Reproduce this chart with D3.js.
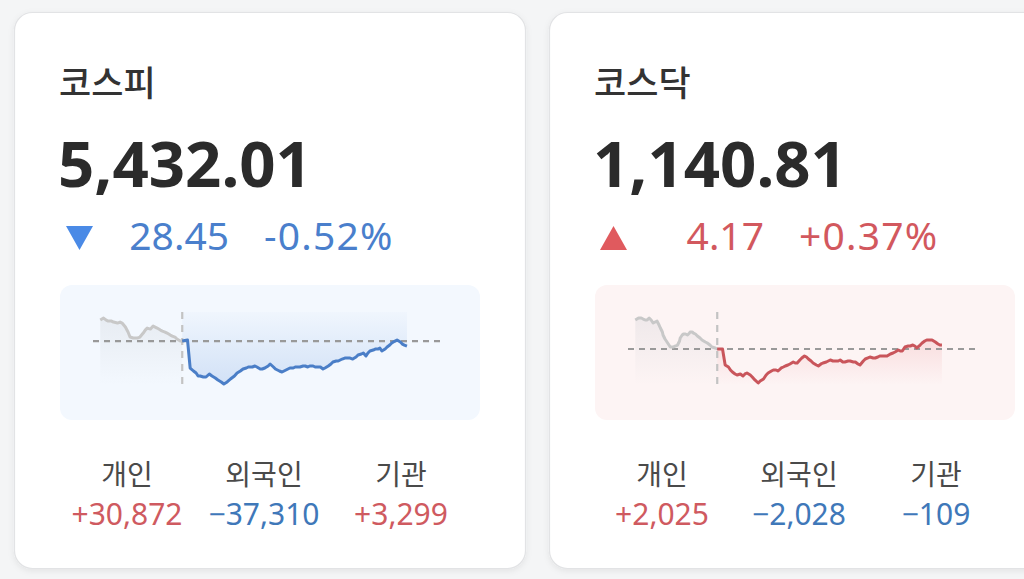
<!DOCTYPE html>
<html><head><meta charset="utf-8">
<script src="https://cdn.jsdelivr.net/npm/d3@7"></script>
<style>
html,body{margin:0;padding:0;background:#f4f5f6;}
svg{display:block;font-family:"Noto Sans","Noto Sans CJK KR",sans-serif;}
</style></head>
<body><svg id="c" width="1024" height="579"></svg>
<script>
// ---- data ----
const indexNames = ["코스피", "코스닥"];
const indexValues = [5432.01, 1140.81];
const changes = [-28.45, 4.17];
const changePct = [-0.52, 0.37];
const investorLabels = ["개인", "외국인", "기관"];
const kospiInvestors = [30872, -37310, 3299];
const kosdaqInvestors = [2025, -2028, -109];

// minutes relative to today's open (negative = previous session)
const kospiPrevTimes = [-124,-119,-115,-112,-107,-104,-98,-94,-91,-86,-82,-79,-74,-68,-64,-59,-56,-53,-48,-44,-41,-38,-33,-30,-26,-23,-18,-15,-11,-8,-3,0];
const kospiPrevValues = [5579.9,5591.3,5579.9,5574.3,5574.3,5568.6,5562.9,5568.6,5562.9,5540.1,5511.7,5483.2,5477.5,5477.5,5483.2,5506.0,5523.0,5534.4,5528.7,5545.8,5540.1,5534.4,5523.0,5517.4,5511.7,5506.0,5494.6,5488.9,5483.2,5471.9,5460.5,5460.5];
const kospiTimes = [0,8,12,17,21,24,27,32,36,41,45,50,54,59,63,68,73,79,83,88,92,97,100,106,110,113,118,121,125,130,133,138,141,147,151,157,163,168,171,175,178,183,186,190,193,198,201,206,209,213,216,221,225,228,233,236,242,246,251,254,258,263,266,271,274,278,281,284,289,292,296,299,302,307,310,314,317,322,325,330,333,336,340];
const kospiValues = [5460.5,5466.2,5306.8,5289.8,5278.4,5261.3,5261.3,5255.6,5255.6,5272.7,5261.3,5249.9,5238.6,5227.2,5215.8,5227.2,5244.2,5261.3,5278.4,5289.8,5301.1,5306.8,5312.5,5312.5,5318.2,5312.5,5301.1,5301.1,5306.8,5318.2,5329.6,5312.5,5301.1,5289.8,5284.1,5295.5,5306.8,5306.8,5312.5,5312.5,5312.5,5318.2,5318.2,5312.5,5318.2,5318.2,5312.5,5312.5,5312.5,5301.1,5306.8,5318.2,5329.6,5341.0,5346.7,5346.7,5358.0,5363.7,5363.7,5363.7,5358.0,5369.4,5380.8,5386.5,5392.2,5375.1,5392.2,5403.6,5409.2,5414.9,5414.9,5420.6,5403.6,5414.9,5426.3,5437.7,5449.1,5460.5,5466.2,5454.8,5443.4,5437.7,5432.0];

const kosdaqPrevTimes = [-124,-119,-115,-112,-109,-106,-103,-100,-97,-94,-91,-88,-86,-83,-82,-79,-76,-73,-71,-68,-67,-63,-60,-57,-56,-53,-51,-48,-45,-42,-41,-38,-36,-33,-30,-26,-23,-18,-15,-11,-8,-3,0];
const kosdaqPrevValues = [1167.1,1169.2,1169.2,1168.1,1167.1,1167.1,1169.2,1167.1,1163.9,1165.0,1166.0,1161.8,1158.7,1154.5,1151.3,1147.1,1144.0,1140.8,1138.7,1138.7,1138.7,1139.8,1140.8,1145.0,1148.2,1151.3,1152.4,1152.4,1151.3,1153.4,1154.5,1154.5,1153.4,1152.4,1150.3,1148.2,1146.1,1144.0,1142.9,1140.8,1138.7,1137.7,1136.6];
const kosdaqTimes = [0,8,12,17,20,23,27,30,35,39,42,45,50,53,57,62,65,70,74,77,82,85,89,92,97,100,103,107,110,115,118,121,125,128,132,135,138,142,145,150,153,157,160,165,171,175,178,183,186,190,193,198,201,206,209,213,216,221,224,228,231,236,239,243,246,252,257,262,266,269,274,277,280,284,289,292,296,299,302,307,310,314,317,322,325,330,334,337,340];
const kosdaqValues = [1136.6,1136.6,1119.8,1117.7,1114.6,1112.5,1110.4,1109.3,1110.4,1108.3,1110.4,1111.4,1109.3,1107.2,1104.1,1100.9,1103.0,1105.1,1109.3,1111.4,1113.5,1114.6,1114.6,1113.5,1116.7,1117.7,1118.8,1119.8,1120.9,1123.0,1121.9,1121.9,1125.1,1127.2,1129.3,1128.2,1126.1,1124.0,1121.9,1119.8,1118.8,1120.9,1121.9,1123.0,1125.1,1124.0,1124.0,1124.0,1125.1,1123.0,1123.0,1124.0,1124.0,1123.0,1123.0,1120.9,1119.8,1124.0,1126.1,1127.2,1128.2,1127.2,1127.2,1128.2,1129.3,1129.3,1129.3,1131.4,1132.4,1133.5,1135.6,1134.5,1134.5,1138.7,1139.8,1139.8,1140.8,1139.8,1137.7,1140.8,1142.9,1145.0,1146.1,1146.1,1146.1,1144.0,1141.9,1140.8,1140.8];

const timeDomain = [-135, 390];
const kospiDomain = [5210, 5626];
const kosdaqDomain = [1098.8, 1175.5];

// ---- drawing ----
const svg = d3.select("#c");
const defs = svg.append("defs");
const f = defs.append("filter").attr("id","sh").attr("x","-10%").attr("y","-10%").attr("width","120%").attr("height","120%");
f.append("feDropShadow").attr("dx",0).attr("dy",2).attr("stdDeviation",3).attr("flood-color","#000").attr("flood-opacity",0.07);

function grad(id, color, o1, o2) {
  const g = defs.append("linearGradient").attr("id", id).attr("x1",0).attr("y1",0).attr("x2",0).attr("y2",1);
  g.append("stop").attr("offset","0%").attr("stop-color",color).attr("stop-opacity",o1);
  g.append("stop").attr("offset","100%").attr("stop-color",color).attr("stop-opacity",o2);
}
grad("gGray", "#b8bcc4", 0.2, 0.0);
grad("gBlue", "#4d86d8", 0.02, 0.2);
grad("gRed", "#e46a70", 0.16, 0.0);

const blue = "#4a7fcc", red = "#d2585e";
const sign = d3.format("+,");

const cards = [
  {x:14, name:indexNames[0], val:indexValues[0], chg:changes[0], pct:changePct[0], inv:kospiInvestors,
   prevT:kospiPrevTimes, prevV:kospiPrevValues, t:kospiTimes, v:kospiValues, dom:kospiDomain, panel:"#f3f8fe"},
  {x:549, name:indexNames[1], val:indexValues[1], chg:changes[1], pct:changePct[1], inv:kosdaqInvestors,
   prevT:kosdaqPrevTimes, prevV:kosdaqPrevValues, t:kosdaqTimes, v:kosdaqValues, dom:kosdaqDomain, panel:"#fdf4f4"}
];

cards.forEach(c => {
  const g = svg.append("g").attr("transform", `translate(${c.x},0)`);
  g.append("rect").attr("x",0.5).attr("y",12.5).attr("width",511).attr("height",556).attr("rx",18)
    .attr("fill","#fff").attr("stroke","#e2e3e5").attr("stroke-width",1.2).attr("filter","url(#sh)");

  g.append("text").attr("x",45).attr("y",96).attr("font-size",35).attr("font-weight",500)
    .attr("font-family","'Noto Sans CJK KR',sans-serif").attr("fill","#333").text(c.name);
  g.append("text").attr("x",44).attr("y",187).attr("font-size",63.5).attr("font-weight",700)
    .attr("fill","#2b2b2b").text(d3.format(",.2f")(c.val));

  const up = c.chg >= 0;
  const col = up ? red : blue;
  const tri = d3.path();
  if (up) { tri.moveTo(51,250); tri.lineTo(64.5,226); tri.lineTo(78,250); }
  else { tri.moveTo(52,226); tri.lineTo(79,226); tri.lineTo(65.5,250); }
  tri.closePath();
  g.append("path").attr("d",tri.toString()).attr("fill", up ? "#e05a5e" : "#4a8ae6");
  g.append("text").attr("x",215).attr("y",250).attr("text-anchor","end").attr("font-size",39)
    .attr("fill",col).text(d3.format(".2f")(Math.abs(c.chg)));
  g.append("text").attr("x",250).attr("y",250).attr("font-size",39).attr("letter-spacing",1.2)
    .attr("fill",col).text((up?"+":"-") + d3.format(".2f")(Math.abs(c.pct)) + "%");

  // sparkline panel
  g.append("rect").attr("x",46).attr("y",285).attr("width",420).attr("height",135).attr("rx",12).attr("fill",c.panel);
  const x = d3.scaleLinear().domain(timeDomain).range([79, 426]);
  const y = d3.scaleLinear().domain(c.dom).range([385, 312]);
  const prevClose = c.val - c.chg;

  const prev = c.prevT.map((t,i)=>[t,c.prevV[i]]);
  const today = c.t.map((t,i)=>[t,c.v[i]]);

  g.append("path").datum(prev).attr("fill","url(#gGray)")
    .attr("d", d3.area().x(d=>x(d[0])).y0(y(c.dom[0])).y1(d=>y(d[1])));
  if (up) {
    g.append("path").datum(today).attr("fill","url(#gRed)")
      .attr("d", d3.area().x(d=>x(d[0])).y0(y(c.dom[0])).y1(d=>y(d[1])));
  } else {
    g.append("path").datum(today).attr("fill","url(#gBlue)")
      .attr("d", d3.area().x(d=>x(d[0])).y0(y(c.dom[1])).y1(d=>y(d[1])));
  }

  g.append("line").attr("x1",x(0)).attr("x2",x(0)).attr("y1",y(c.dom[1])).attr("y2",y(c.dom[0]))
    .attr("stroke","#c3c3c3").attr("stroke-width",2.2).attr("stroke-dasharray","7,6");
  g.append("line").attr("x1",x(timeDomain[0])).attr("x2",x(timeDomain[1])).attr("y1",y(prevClose)).attr("y2",y(prevClose))
    .attr("stroke","#999").attr("stroke-width",2.2).attr("stroke-dasharray","6,5");

  const line = d3.line().x(d=>x(d[0])).y(d=>y(d[1]));
  g.append("path").datum(prev).attr("d",line).attr("fill","none").attr("stroke","#c8c8c8")
    .attr("stroke-width",3).attr("stroke-linejoin","round");
  g.append("path").datum(today).attr("d",line).attr("fill","none").attr("stroke", up ? "#c9555b" : "#4a7ec7")
    .attr("stroke-width",3).attr("stroke-linejoin","round");

  // investors
  const ix = d3.scalePoint().domain(investorLabels).range([113, 387]);
  investorLabels.forEach((lab,i)=>{
    g.append("text").attr("x",ix(lab)).attr("y",485).attr("text-anchor","middle").attr("font-size",28)
      .attr("font-family","'Noto Sans CJK KR',sans-serif").attr("fill","#4a4a4a").text(lab);
    const v = c.inv[i];
    g.append("text").attr("x",ix(lab)).attr("y",525).attr("text-anchor","middle").attr("font-size",30)
      .attr("fill", v>=0 ? "#cf5a60" : "#3f78b9").text(sign(v));
  });
});
</script></body></html>
